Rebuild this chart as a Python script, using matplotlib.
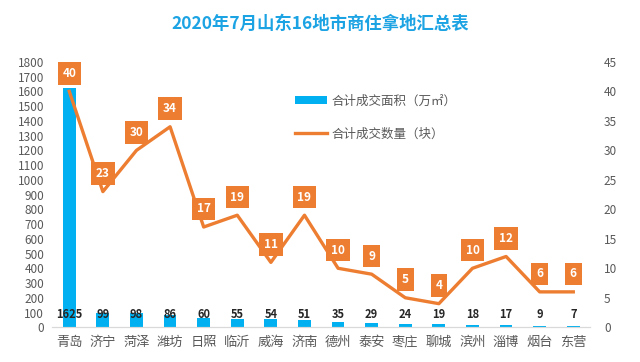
import matplotlib
matplotlib.use('Agg')
import matplotlib.pyplot as plt

plt.rcParams['font.family'] = ['Noto Sans CJK SC', 'DejaVu Sans']
plt.rcParams['axes.unicode_minus'] = False

cities = ['青岛', '济宁', '菏泽', '潍坊', '日照', '临沂', '威海', '济南',
          '德州', '泰安', '枣庄', '聊城', '滨州', '淄博', '烟台', '东营']
area = [1625, 99, 98, 86, 60, 55, 54, 51, 35, 29, 24, 19, 18, 17, 9, 7]
count = [40, 23, 30, 34, 17, 19, 11, 19, 10, 9, 5, 4, 10, 12, 6, 6]

BLUE = '#00B0F0'
ORANGE = '#ED7D31'
GRAY = '#595959'

fig = plt.figure(figsize=(6.4, 3.62), dpi=100)
ax = fig.add_axes([0.082, 0.096, 0.840, 0.733])
ax2 = ax.twinx()

x = list(range(len(cities)))
ax.bar(x, area, width=0.38, color=BLUE, label='合计成交面积（万㎡）', zorder=2)
ax2.plot(x, count, color=ORANGE, linewidth=2.4, label='合计成交数量（块）', zorder=3)

ax.set_xlim(-0.5, 15.5)
ax.set_ylim(0, 1800)
ax.set_yticks(range(0, 1801, 100))
ax2.set_ylim(0, 45)
ax2.set_yticks(range(0, 46, 5))

for a in (ax, ax2):
    for s in ('top', 'left', 'right'):
        a.spines[s].set_visible(False)
    a.spines['bottom'].set_color('#D9D9D9')
    a.tick_params(length=0, colors=GRAY, labelsize=8.5)

ax.set_xticks(x)
ax.set_xticklabels(cities, fontsize=9.5, color=GRAY)
ax.tick_params(axis='x', pad=6)
ax.tick_params(axis='y', pad=6)
ax2.tick_params(axis='y', pad=10)

# 面积数值标签（统一放在底部）
for i, v in enumerate(area):
    ax.text(i, 88, str(v), ha='center', va='center', fontsize=8,
            fontweight='bold', color='#262626', zorder=4)

# 数量标签（橙色方框）
for i, v in enumerate(count):
    ax2.annotate(str(v), (i, v), xytext=(0, 13), textcoords='offset points',
                 ha='center', va='center', fontsize=8.5, fontweight='bold',
                 color='white', zorder=5,
                 bbox=dict(boxstyle='square,pad=0.4', fc=ORANGE, ec='none'))

h1, l1 = ax.get_legend_handles_labels()
h2, l2 = ax2.get_legend_handles_labels()
leg = ax2.legend(h1 + h2, l1 + l2, loc='upper left', bbox_to_anchor=(0.43, 0.92),
                 frameon=False, fontsize=9, labelspacing=1.6,
                 handlelength=2.6, handleheight=0.5, handletextpad=0.3)
for t in leg.get_texts():
    t.set_color(GRAY)

fig.text(0.5, 0.935, '2020年7月山东16地市商住拿地汇总表', ha='center', va='center',
         fontsize=12.5, fontweight='bold', color='#1CA3E3')

fig.savefig('out.png', dpi=100)
plt.close(fig)
